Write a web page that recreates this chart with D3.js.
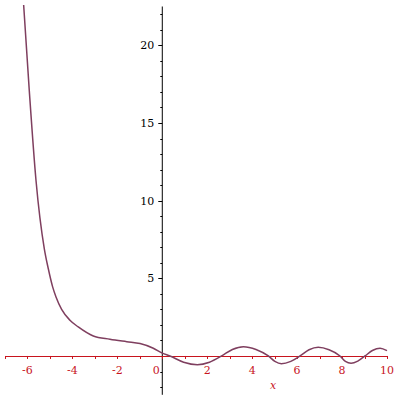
<!DOCTYPE html>
<html>
<head>
<meta charset="utf-8">
<script src="https://cdn.jsdelivr.net/npm/d3@7"></script>
<style>
  body { margin: 0; background: #fff; }
</style>
</head>
<body>
<svg></svg>
<script>
// curve
const xs = [-6.17, -5.92, -5.62, -5.25, -5.07, -4.88, -4.73, -4.48, -4.11, -3.74, -3.07, -2.33, -1.58, -0.99, -0.40, 0.0, 0.34,
  0.95, 1.56, 2.1, 2.64, 3.12, 3.61, 4.17, 4.72, 5.01, 5.3, 5.72, 6.13, 6.53, 6.94, 7.42, 7.91, 8.15, 8.4, 8.7, 9.02, 9.35, 9.69, 10];
const ys = [22.6, 17.1, 11.3, 6.9, 5.6, 4.45, 3.8, 3.0, 2.3, 1.87, 1.29, 1.08, 0.92, 0.80, 0.50, 0.18, 0,
  -0.40, -0.56, -0.40, 0, 0.42, 0.60, 0.42, 0, -0.35, -0.50, -0.35, 0, 0.40, 0.56, 0.40, 0, -0.35, -0.47, -0.33, 0, 0.35, 0.50, 0.34];

const xTicks = [-6, -4, -2, 0, 2, 4, 6, 8, 10];
const yTicks = [5, 10, 15, 20];

const width = 400, height = 400;

const svg = d3.select("svg")
    .attr("width", width)
    .attr("height", height)
    .attr("font-family", "'DejaVu Serif', serif")
    .attr("font-size", 11);

const x = d3.scaleLinear().domain([-7, 10]).range([5, 387]);
const y = d3.scaleLinear().domain([-2.5, 22.5]).range([394.8, 6.5]);

const red = "#c8141e";

// y axis (black, ticks on the left)
svg.append("line")
    .attr("x1", x(0)).attr("x2", x(0))
    .attr("y1", y(22.5)).attr("y2", y(-2.5))
    .attr("stroke", "#000");

svg.selectAll(".yminor")
  .data(d3.range(-2, 23))
  .join("line")
    .attr("x1", x(0)).attr("x2", d => x(0) - (d % 5 === 0 ? 4 : 2))
    .attr("y1", d => Math.round(y(d)) + 0.5).attr("y2", d => Math.round(y(d)) + 0.5)
    .attr("stroke", "#000");

svg.selectAll(".ylab")
  .data(yTicks)
  .join("text")
    .attr("x", x(0) - 8)
    .attr("y", d => y(d) + 4)
    .attr("text-anchor", "end")
    .attr("fill", "#000")
    .text(d => d);

// x axis (red)
svg.append("line")
    .attr("x1", x(-7)).attr("x2", x(10))
    .attr("y1", Math.round(y(0)) + 0.5).attr("y2", Math.round(y(0)) + 0.5)
    .attr("stroke", red);

svg.selectAll(".xminor")
  .data(d3.range(-7, 11))
  .join("line")
    .attr("x1", d => Math.round(x(d)) + 0.5).attr("x2", d => Math.round(x(d)) + 0.5)
    .attr("y1", y(0)).attr("y2", y(0) + 3)
    .attr("stroke", red);

svg.selectAll(".xlab")
  .data(xTicks)
  .join("text")
    .attr("x", d => d === 0 ? x(0) - 6 : x(d))
    .attr("y", y(0) + 18)
    .attr("text-anchor", "middle")
    .attr("fill", red)
    .text(d => d < 0 ? "-" + Math.abs(d) : d);

svg.append("text")
    .attr("x", 273)
    .attr("y", 389)
    .attr("text-anchor", "middle")
    .attr("fill", red)
    .attr("font-style", "italic")
    .text("x");

// the curve
const line = d3.line()
    .x(d => x(d[0]))
    .y(d => y(d[1]))
    .curve(d3.curveMonotoneX);

svg.append("path")
    .datum(xs.map((v, i) => [v, ys[i]]))
    .attr("fill", "none")
    .attr("stroke", "#7f3f5f")
    .attr("stroke-width", 1.5)
    .attr("d", line);
</script>
</body>
</html>
